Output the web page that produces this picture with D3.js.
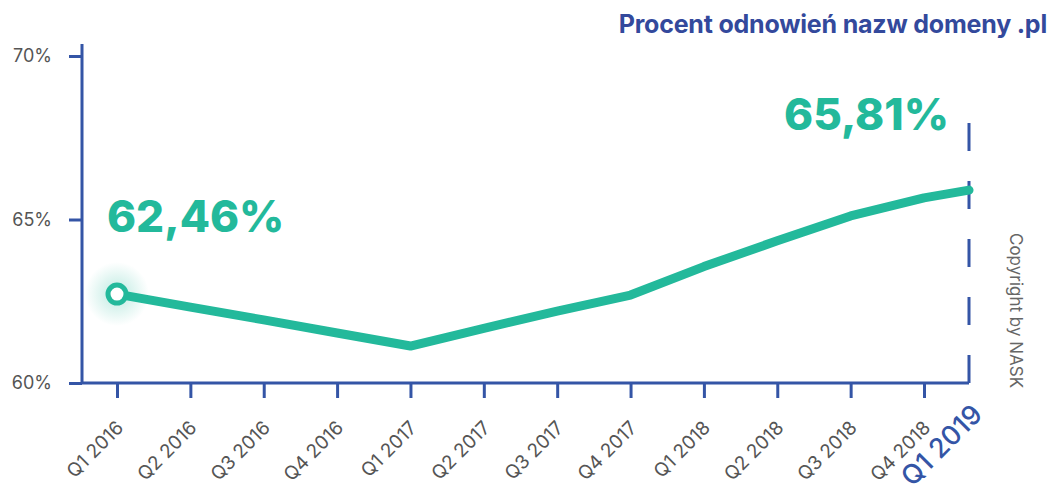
<!DOCTYPE html>
<html>
<head>
<meta charset="utf-8">
<script src="https://cdn.jsdelivr.net/npm/d3@7"></script>
<style>
  body { margin: 0; background: #fff; }
  svg { display: block; font-family: Inter, "Noto Sans", sans-serif; }
</style>
</head>
<body>
<div class="chart"></div>
<script>
// dane
const quarters = ['Q1 2016','Q2 2016','Q3 2016','Q4 2016','Q1 2017','Q2 2017','Q3 2017','Q4 2017','Q1 2018','Q2 2018','Q3 2018','Q4 2018','Q1 2019'];
const renewals = [62.72, 62.32, 61.93, 61.53, 61.13, 61.67, 62.20, 62.69, 63.56, 64.35, 65.11, 65.66, 65.90];
const yTicks = [60, 65, 70];
const firstLabel = '62,46%';
const lastLabel = '65,81%';
const title = 'Procent odnowień nazw domeny .pl';

const W = 1052, H = 488;
const m = {left: 82, top: 44, right: 83, bottom: 105};
const w = W - m.left - m.right, h = H - m.top - m.bottom;

const teal = '#23b99b', blue = '#3455a6', grey = '#555';

const svg = d3.select('.chart').append('svg')
  .attr('width', W).attr('height', H);

const defs = svg.append('defs');
const glow = defs.append('radialGradient').attr('id', 'glow');
glow.append('stop').attr('offset', '0%').attr('stop-color', teal).attr('stop-opacity', 0.3);
glow.append('stop').attr('offset', '100%').attr('stop-color', teal).attr('stop-opacity', 0);

// skale - ostatni kwartal lezy na prawej krawedzi wykresu
const x = d3.scalePoint().domain(quarters.slice(0, 12)).range([35, 842]);
const xPos = (q) => q === quarters[12] ? w : x(q);
const y = d3.scaleLinear().domain([60, 70]).range([h, 12]);

const g = svg.append('g').attr('transform', `translate(${m.left},${m.top})`);

// tytul
svg.append('text')
  .attr('x', 1047).attr('y', 33)
  .attr('text-anchor', 'end')
  .attr('fill', '#33499c')
  .attr('font-size', 25).attr('font-weight', 700)
  .attr('letter-spacing', -0.2)
  .text(title);

// os Y
const yAxis = g.append('g')
  .call(d3.axisLeft(y).tickValues(yTicks).tickSize(13).tickPadding(17).tickFormat(d => d + '%'));
yAxis.select('.domain').remove();
yAxis.selectAll('line').attr('stroke', blue).attr('stroke-width', 3);
yAxis.selectAll('text').attr('fill', grey).attr('font-size', 18).attr('font-family', 'Inter, sans-serif');

// os X
const xAxis = g.append('g').attr('transform', `translate(0,${h})`)
  .call(d3.axisBottom(x).tickSize(15));
xAxis.select('.domain').remove();
xAxis.selectAll('line').attr('stroke', blue).attr('stroke-width', 3);
xAxis.selectAll('text')
  .attr('fill', grey).attr('font-size', 19).attr('font-family', 'Inter, sans-serif')
  .attr('text-anchor', 'end')
  .attr('dy', null).attr('y', 0)
  .attr('transform', 'translate(7,46) rotate(-45)');

// etykieta ostatniego kwartalu
g.append('text')
  .attr('transform', `translate(${xPos(quarters[12]) + 15},${h + 33}) rotate(-45)`)
  .attr('text-anchor', 'end')
  .attr('fill', blue).attr('font-size', 27).attr('font-weight', 500)
  .text(quarters[12]);

// linie osi
g.append('path')
  .attr('d', `M0,0V${h}H${w}`)
  .attr('fill', 'none').attr('stroke', blue).attr('stroke-width', 3);
g.append('line')
  .attr('x1', w).attr('x2', w).attr('y1', h).attr('y2', 74)
  .attr('stroke', blue).attr('stroke-width', 3)
  .attr('stroke-dasharray', '28 30');

// linia danych
const line = d3.line().x((d, i) => xPos(quarters[i])).y(d => y(d));
g.append('path')
  .datum(renewals)
  .attr('d', line)
  .attr('fill', 'none').attr('stroke', teal)
  .attr('stroke-width', 9).attr('stroke-linejoin', 'round').attr('stroke-linecap', 'round');

// punkt startowy
g.append('circle')
  .attr('cx', xPos(quarters[0])).attr('cy', y(renewals[0])).attr('r', 32)
  .attr('fill', 'url(#glow)');
g.append('circle')
  .attr('cx', xPos(quarters[0])).attr('cy', y(renewals[0])).attr('r', 9)
  .attr('fill', '#fff').attr('stroke', teal).attr('stroke-width', 5);

// etykiety wartosci
g.append('text')
  .attr('x', xPos(quarters[0]) - 10).attr('y', y(renewals[0]) - 62)
  .attr('fill', teal).attr('font-size', 44).attr('font-weight', 800)
  .text(firstLabel);
g.append('text')
  .attr('x', xPos(quarters[12]) - 20).attr('y', y(renewals[12]) - 60)
  .attr('text-anchor', 'end')
  .attr('fill', teal).attr('font-size', 44).attr('font-weight', 800)
  .text(lastLabel);

// copyright
svg.append('text')
  .attr('transform', 'translate(1010,233) rotate(90)')
  .attr('fill', '#666').attr('font-size', 17)
  .text('Copyright by NASK');
</script>
</body>
</html>
